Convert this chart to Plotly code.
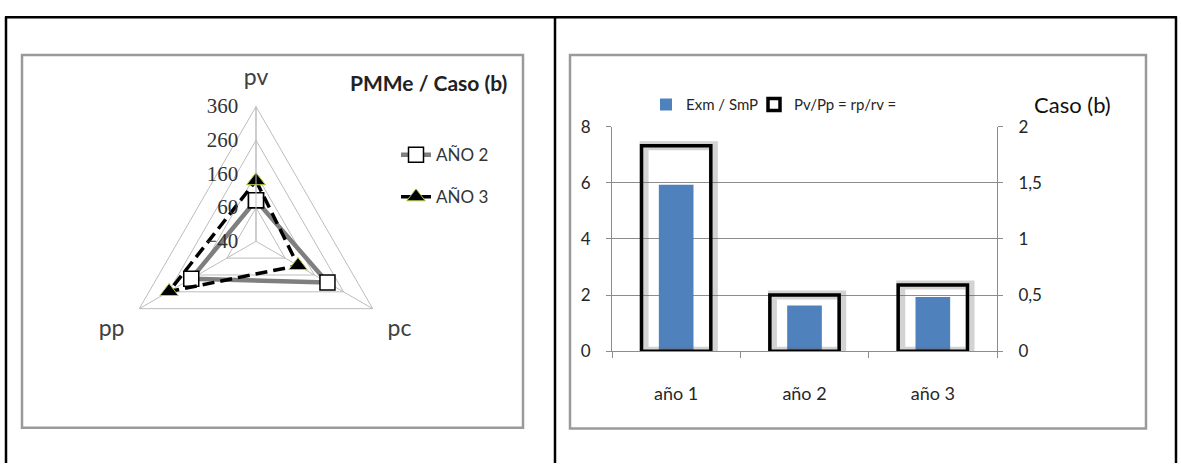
import plotly.graph_objects as go

W, H = 1181, 473

# Radar: PMMe per axis
ejes = ["pv", "pc", "pp"]
anio2 = [82, 205, 182]
anio3 = [140, 104, 258]
radial_ticks = [-40, 60, 160, 260, 360]

# Bars: Exm / SmP (left axis) and Pv/Pp (right axis)
categorias = ["año 1", "año 2", "año 3"]
exm_smp = [5.93, 1.63, 1.93]
pv_pp = [1.83, 0.50, 0.59]


def px(x):
    return x / W


def py(y):
    return 1 - y / H


def cerrar(v):
    return list(v) + [v[0]]


SANS = "Lato, Liberation Sans, Arial"
GRID = "#bdbdbd"
AX = "#8c8c8c"

fig = go.Figure()

fig.add_trace(go.Scatterpolar(
    r=cerrar(anio2), theta=cerrar(ejes), name="AÑO 2", mode="lines+markers",
    line=dict(color="#7f7f7f", width=4.5),
    marker=dict(symbol="square", size=15, color="white",
                line=dict(color="black", width=1.5)),
    legend="legend", legendgroup="a2",
))
fig.add_trace(go.Scatterpolar(
    r=cerrar(anio3), theta=cerrar(ejes), name="AÑO 3", mode="lines+markers",
    line=dict(color="black", width=3.5, dash="12px,6px"),
    marker=dict(symbol="triangle-up", size=16, color="black",
                line=dict(color="#b8c94c", width=1)),
    legend="legend", legendgroup="a3",
))

fig.add_trace(go.Bar(
    x=categorias, y=exm_smp, name="Exm / SmP", width=0.27,
    marker=dict(color="#4f81bd", line=dict(width=0)),
    xaxis="x", yaxis="y", legend="legend2",
))
# soft shadow behind the outlined boxes
fig.add_trace(go.Bar(
    x=categorias, y=pv_pp, width=0.54, offset=-0.25, showlegend=False,
    marker=dict(color="rgba(0,0,0,0)", line=dict(color="rgba(110,110,110,0.30)", width=9)),
    xaxis="x", yaxis="y2", hoverinfo="skip",
))
fig.add_trace(go.Bar(
    x=categorias, y=pv_pp, name="Pv/Pp = rp/rv =", width=0.54,
    marker=dict(color="rgba(0,0,0,0)", line=dict(color="black", width=3.5)),
    xaxis="x", yaxis="y2", legend="legend3",
))

shapes = [
    # chart frames
    dict(type="rect", xref="paper", yref="paper", x0=px(22), x1=px(523), y0=py(436), y1=py(46),
         line=dict(color="#9a9a9a", width=2.5), fillcolor="white", layer="below"),
    dict(type="rect", xref="paper", yref="paper", x0=px(570), x1=px(1146), y0=py(437), y1=py(46),
         line=dict(color="#9a9a9a", width=2.5), fillcolor="white", layer="below"),
    # table rules
    dict(type="line", xref="paper", yref="paper", x0=px(5), x1=px(1177), y0=py(6.5), y1=py(6.5),
         line=dict(color="black", width=2.5)),
    dict(type="line", xref="paper", yref="paper", x0=px(6), x1=px(6), y0=0, y1=py(6),
         line=dict(color="black", width=2.5)),
    dict(type="line", xref="paper", yref="paper", x0=px(555), x1=px(555), y0=0, y1=py(6),
         line=dict(color="black", width=2.5)),
    dict(type="line", xref="paper", yref="paper", x0=px(1176), x1=px(1176), y0=0, y1=py(6),
         line=dict(color="black", width=2.5)),
]

annotations = [
    dict(text="<b>PMMe / Caso (b)</b>", xref="paper", yref="paper", x=px(428), y=py(75),
         xanchor="center", yanchor="middle", showarrow=False,
         font=dict(family=SANS, size=21, color="#222")),
    dict(text="Caso (b)", xref="paper", yref="paper", x=px(1072), y=py(98),
         xanchor="center", yanchor="middle", showarrow=False,
         font=dict(family=SANS, size=22, color="#111")),
]

tick_font = dict(family=SANS, size=17, color="#262626")
bar_legend_font = dict(family=SANS, size=15, color="#262626")

fig.update_layout(
    width=W, height=H, margin=dict(l=0, r=0, t=0, b=0),
    paper_bgcolor="white", plot_bgcolor="rgba(0,0,0,0)",
    separators=",.",
    barmode="overlay",
    shapes=shapes, annotations=annotations,
    polar=dict(
        domain=dict(x=[px(115), px(397)], y=[py(382), py(100)]),
        bgcolor="rgba(0,0,0,0)", gridshape="linear",
        radialaxis=dict(range=[-40, 360], tickvals=radial_ticks, angle=90,
                        side="counterclockwise", tickangle=90,
                        ticks="outside", ticklen=10, tickcolor="rgba(0,0,0,0)",
                        showline=True, linecolor=GRID, gridcolor=GRID, gridwidth=1,
                        tickfont=dict(family="Liberation Serif", size=21, color="#333")),
        angularaxis=dict(direction="clockwise", rotation=90, categoryorder="array",
                         categoryarray=ejes, showline=True, linecolor=GRID, linewidth=1,
                         gridcolor=GRID, ticks="outside", ticklen=12,
                         tickcolor="rgba(0,0,0,0)",
                         tickfont=dict(family=SANS, size=23, color="#404040")),
    ),
    legend=dict(x=px(396), y=py(132), xanchor="left", yanchor="top",
                bgcolor="rgba(0,0,0,0)", tracegroupgap=17,
                font=dict(family=SANS, size=17, color="#333")),
    legend2=dict(x=px(646), y=py(98), xanchor="left", yanchor="middle",
                 orientation="h", bgcolor="rgba(0,0,0,0)", font=bar_legend_font),
    legend3=dict(x=px(754), y=py(98), xanchor="left", yanchor="middle",
                 orientation="h", bgcolor="rgba(0,0,0,0)", font=bar_legend_font),
    xaxis=dict(domain=[px(612), px(997)], anchor="y", type="category",
               range=[-0.5, 2.5], showline=True, linecolor=AX, showgrid=False,
               ticks="outside", tickson="boundaries", ticklen=6, tickcolor=AX,
               ticklabelstandoff=26, tickfont=dict(family=SANS, size=18, color="#262626")),
    yaxis=dict(domain=[py(356), py(121)], anchor="x", range=[0, 8], dtick=2,
               showgrid=True, gridcolor=AX, zeroline=False, showline=True,
               linecolor=AX, ticks="outside", ticklen=5, tickcolor=AX,
               ticklabelstandoff=12, tickfont=tick_font),
    yaxis2=dict(overlaying="y", side="right", anchor="x", range=[0, 2], dtick=0.5,
                showgrid=False, zeroline=False, showline=True, linecolor=AX,
                ticks="outside", ticklen=5, tickcolor=AX,
                ticklabelstandoff=12, tickfont=tick_font),
)

fig.write_html("out.html")
